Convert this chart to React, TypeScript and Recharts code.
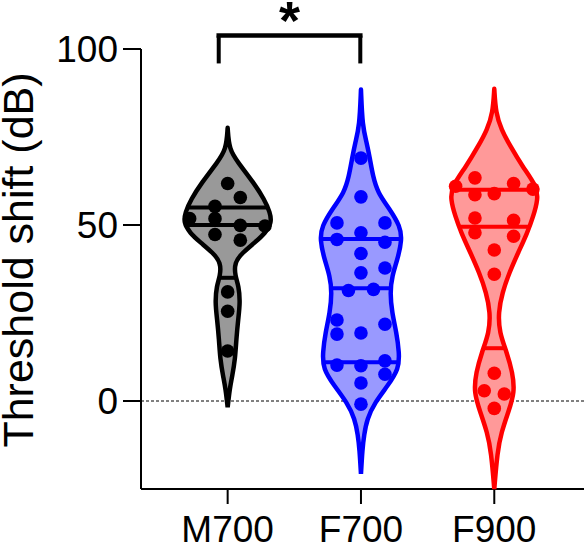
import { ComposedChart, Scatter, XAxis, YAxis, ReferenceLine, ReferenceDot, Label } from 'recharts';

const FONT = '"Liberation Sans", Arial, Helvetica, sans-serif';

const groups = ['M700', 'F700', 'F900'];

// violin outlines: dB level and density half-width (in category units)
const m700Levels = [-1.8, 3.4, 7.2, 11.9, 17.6, 23.2, 28, 32.7, 35.5, 39.3, 42.2, 45, 47.8, 50.7, 53.5, 57.3, 62, 67.7, 71.4, 77.6];
const m700Half = [0, 0.015, 0.035, 0.056, 0.065, 0.079, 0.094, 0.083, 0.056, 0.05, 0.113, 0.203, 0.285, 0.33, 0.319, 0.275, 0.195, 0.079, 0.011, 0];

const f700Levels = [-20.7, -13.6, -9.8, -5.1, -0.4, 4.3, 9.1, 13.8, 19.5, 25.1, 30.8, 35.5, 40.3, 45.9, 49.7, 54.4, 59.2, 63.9, 68.6, 73.3, 78, 88.5];
const f700Half = [0, 0.011, 0.023, 0.045, 0.105, 0.2, 0.285, 0.287, 0.266, 0.233, 0.218, 0.233, 0.275, 0.308, 0.293, 0.218, 0.125, 0.09, 0.068, 0.044, 0.011, 0];

const f900Levels = [-25, -14.5, -8.9, -3.2, 2.5, 8.1, 13.8, 19.5, 25.1, 30.8, 36.5, 42.2, 47.8, 52.5, 57.3, 61, 66.7, 72.4, 77.1, 81.9, 88.7];
const f900Half = [0, 0.023, 0.053, 0.105, 0.154, 0.137, 0.094, 0.038, 0.03, 0.06, 0.113, 0.18, 0.248, 0.293, 0.328, 0.319, 0.21, 0.12, 0.053, 0.011, 0];

// quartiles (Q1, median, Q3)
const m700Quartiles = [35, 50, 55];
const f700Quartiles = [11, 32, 46];
const f900Quartiles = [15, 49.5, 60];

// individual animals: threshold shift and horizontal spread within the violin
const m700Values = [61.8, 57.8, 55.3, 51.8, 51.8, 49.9, 49.7, 47.3, 45.7, 31, 25.5, 14.2];
const m700Offsets = [0, 0.095, -0.095, -0.285, -0.095, 0.095, 0.28, -0.095, 0.095, 0, 0, 0];

const f700Values = [69, 58, 50.6, 50.6, 47.8, 45.9, 45.1, 41.9, 37.8, 36.4, 31.7, 31.4, 23, 21.8, 19.3, 19, 11.4, 10.2, 10, 7.6, 5.1, -0.9];
const f700Offsets = [0, 0, -0.18, 0.18, 0, -0.18, 0.18, 0, 0.18, 0, 0.094, -0.094, -0.18, 0.18, 0, -0.18, 0.18, -0.18, 0, 0.18, 0, 0];

const f900Values = [63.4, 61.8, 61, 60.2, 58.9, 58.6, 52, 51.3, 47.8, 46.8, 42.9, 36, 7.9, 2.9, 2, -2.1];
const f900Offsets = [-0.145, 0.145, -0.29, 0.29, 0, -0.145, -0.145, 0.145, -0.145, 0.145, 0, 0, 0, -0.075, 0.075, 0];

const yTicks = [0, 50, 100];

const violins = [
  { levels: m700Levels, half: m700Half, quartiles: m700Quartiles, values: m700Values, offsets: m700Offsets, stroke: '#000000', fill: '#999999' },
  { levels: f700Levels, half: f700Half, quartiles: f700Quartiles, values: f700Values, offsets: f700Offsets, stroke: '#0000ff', fill: '#9999ff' },
  { levels: f900Levels, half: f900Half, quartiles: f900Quartiles, values: f900Values, offsets: f900Offsets, stroke: '#ff0000', fill: '#ff9999' },
];

// closed outline: up the right side, tip repeated so the basis curve keeps it sharp, down the left side
function outline(center: number, levels: number[], half: number[]) {
  const right = levels.map((y, i) => ({ x: center + half[i], y }));
  const left = levels.map((y, i) => ({ x: center - half[i], y })).reverse();
  return [...right, right[right.length - 1], ...left];
}

function halfAt(levels: number[], half: number[], y: number) {
  for (let i = 1; i < levels.length; i++) {
    if (y <= levels[i]) {
      const t = (y - levels[i - 1]) / (levels[i] - levels[i - 1]);
      return half[i - 1] + t * (half[i] - half[i - 1]);
    }
  }
  return 0;
}

const noSymbol = () => <g />;

export default function App() {
  return (
    <div style={{ position: 'absolute', left: 0, top: 0, width: 584, height: 546, background: '#fff' }}>
      <ComposedChart width={584} height={546} margin={{ top: 49, right: 0, bottom: 0, left: 0 }}>
        <XAxis
          type="number"
          dataKey="x"
          domain={[0.35, 3.673]}
          ticks={[1, 2, 3]}
          tickFormatter={(v: number) => groups[v - 1]}
          height={57}
          tickSize={15}
          tickMargin={12}
          axisLine={{ stroke: '#000', strokeWidth: 2 }}
          tickLine={{ stroke: '#000', strokeWidth: 2 }}
          tick={{ fontSize: 37, fill: '#000', fontFamily: FONT }}
        />
        <YAxis
          type="number"
          dataKey="y"
          domain={[-25, 100]}
          ticks={yTicks}
          width={141}
          tickSize={18}
          tickMargin={5}
          axisLine={{ stroke: '#000', strokeWidth: 2 }}
          tickLine={{ stroke: '#000', strokeWidth: 2 }}
          tick={{ fontSize: 37, fill: '#000', fontFamily: FONT }}
        >
          <Label
            content={() => (
              <text x={33} y={260} transform="rotate(-90 33 260)" textAnchor="middle" fontSize={43} fontFamily={FONT} fill="#000">
                Threshold shift (dB)
              </text>
            )}
          />
        </YAxis>

        <ReferenceLine y={0} stroke="#000" strokeWidth={1} strokeDasharray="3 2" />

        {violins.map((v, gi) => {
          const center = gi + 1;
          return [
            <Scatter
              key={`violin-${gi}`}
              data={outline(center, v.levels, v.half)}
              shape={noSymbol}
              line={{ fill: v.fill, stroke: v.stroke, strokeWidth: 4.5, strokeLinejoin: 'round' }}
              lineType="joint"
              lineJointType="basis"
              isAnimationActive={false}
            />,
            ...v.quartiles.map((q, qi) => {
              const hw = halfAt(v.levels, v.half, q);
              return (
                <Scatter
                  key={`q-${gi}-${qi}`}
                  data={[{ x: center - hw, y: q }, { x: center + hw, y: q }]}
                  shape={noSymbol}
                  line={{ stroke: v.stroke, strokeWidth: 4 }}
                  lineType="joint"
                  isAnimationActive={false}
                />
              );
            }),
            <Scatter
              key={`dots-${gi}`}
              data={v.values.map((y, i) => ({ x: center + v.offsets[i], y }))}
              shape={(p: any) => <circle cx={p.cx} cy={p.cy} r={6.8} fill={v.stroke} />}
              isAnimationActive={false}
            />,
          ];
        })}

        {/* significance bracket M700 vs F700 */}
        <ReferenceLine segment={[{ x: 0.933, y: 95.9 }, { x: 0.933, y: 103.8 }]} stroke="#000" strokeWidth={4} ifOverflow="visible" />
        <ReferenceLine segment={[{ x: 0.933, y: 103.8 }, { x: 1.995, y: 103.8 }]} stroke="#000" strokeWidth={4.5} strokeLinecap="square" ifOverflow="visible" />
        <ReferenceLine segment={[{ x: 1.995, y: 103.8 }, { x: 1.995, y: 95.9 }]} stroke="#000" strokeWidth={4} ifOverflow="visible" />
        <ReferenceDot x={1.464} y={103.8} r={0} stroke="none" ifOverflow="visible">
          <Label value="*" position="top" offset={-3} fontSize={54} fontWeight={700} fill="#000" fontFamily={FONT} />
        </ReferenceDot>
      </ComposedChart>
    </div>
  );
}
